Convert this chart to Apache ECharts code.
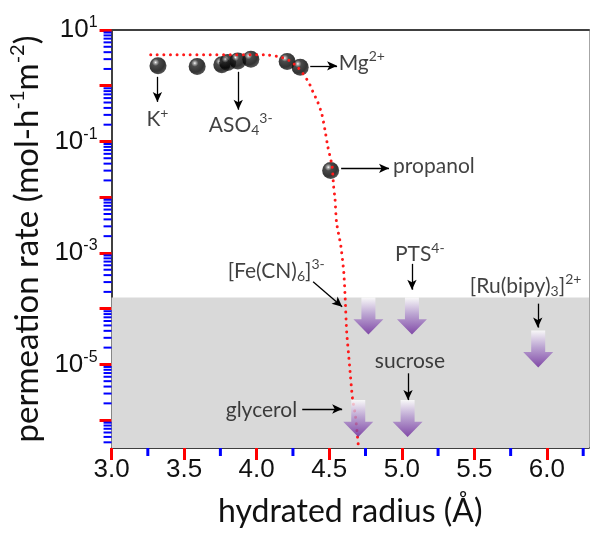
<!DOCTYPE html>
<html>
<head>
<meta charset="utf-8">
<script src="https://cdn.jsdelivr.net/npm/echarts@6/dist/echarts.min.js"></script>
<style>html,body{margin:0;padding:0;background:#fff}#main{width:590px;height:533px}</style>
</head>
<body>
<div id="main"></div>
<script>
// measured points (hydrated radius in A, permeation rate in mol h-1 m-2)
var sphereRadius = [3.32, 3.59, 3.76, 3.80, 3.87, 3.96, 4.21, 4.30, 4.51];
var sphereRate = [2.28, 2.21, 2.37, 2.61, 2.79, 3.00, 2.72, 2.15, 0.030];

// red dotted fit
var fitRadius = [3.27, 4.06, 4.16, 4.23, 4.28, 4.31, 4.36, 4.39, 4.42, 4.45, 4.47, 4.49, 4.52, 4.53, 4.54, 4.55, 4.58, 4.60, 4.61, 4.62, 4.64, 4.66, 4.68, 4.70];
var fitRate = [3.58, 3.58, 3.30, 2.79, 2.18, 1.78, 1.13, 0.75, 0.518, 0.303, 0.164, 0.0815, 0.0358, 0.0157, 0.0092, 0.00358, 0.00133, 4.58e-4, 1.51e-4, 3.88e-5, 9.6e-6, 2.47e-6, 1.23e-6, 3.58e-7];

// species below detection (purple arrows, top of arrow = limit)
var limitNames = ['[Fe(CN)6]3-', 'PTS4-', '[Ru(bipy)3]2+', 'glycerol', 'sucrose'];
var limitRadius = [4.77, 5.07, 5.94, 4.70, 5.04];
var limitRate = [1.58e-4, 1.58e-4, 4.07e-5, 2.29e-6, 2.29e-6];
var shadeTop = 1.58e-4;

// axes
var xLabels = [3.0, 3.5, 4.0, 4.5, 5.0, 5.5, 6.0];
var xMinorTicks = [3.25, 3.75, 4.25, 4.75, 5.25, 5.75, 6.25];
var yLabelExp = [1, -1, -3, -5];
var xMin = 3, xMax = 6.29, yMin = -6.5, yMax = 1;

var lg = function(v){ return Math.log10(v); };

var yMajor = [], yMinor = [];
for (var e = -7; e <= 1; e++) {
    if (e >= yMin && e <= yMax) yMajor.push(e);
    for (var k = 2; k <= 9; k++) {
        var v = e + Math.log10(k);
        if (v > yMin && v < yMax) yMinor.push(v);
    }
}

// annotations: text [radius, log10 rate], arrow [x1, y1, x2, y2]
var notes = [
    {txt: '{t|K}{sup|+}', pos: [3.316, -0.61], align: 'center', arrow: [3.316, 0.16, 3.316, -0.29]},
    {txt: '{t|ASO}{sub|4}{sup|3-}', pos: [3.89, -0.70], align: 'center', arrow: [3.873, 0.25, 3.873, -0.43]},
    {txt: '{t|Mg}{sup|2+}', pos: [4.565, 0.41], align: 'left', arrow: [4.369, 0.357, 4.554, 0.357]},
    {txt: '{t|propanol}', pos: [4.94, -1.45], align: 'left', arrow: [4.582, -1.482, 4.912, -1.482]},
    {txt: '{t|[Fe(CN)}{sub|6}{t|]}{sup|3-}', pos: [3.80, -3.32], align: 'left', arrow: [4.389, -3.518, 4.589, -3.964]},
    {txt: '{t|PTS}{sup|4-}', pos: [4.953, -3.02], align: 'left', arrow: [5.07, -3.196, 5.07, -3.66]},
    {txt: '{t|[Ru(bipy)}{sub|3}{t|]}{sup|2+}', pos: [5.469, -3.59], align: 'left', arrow: [5.937, -3.91, 5.937, -4.34]},
    {txt: '{t|sucrose}', pos: [5.056, -4.95], align: 'center', arrow: [5.043, -5.16, 5.043, -5.64]},
    {txt: '{t|glycerol}', pos: [4.279, -5.82], align: 'right', arrow: [4.314, -5.80, 4.589, -5.80]}
];

var sphereData = [], fitData = [], limitData = [];
for (var i = 0; i < sphereRadius.length; i++) sphereData.push([sphereRadius[i], lg(sphereRate[i])]);
for (var i = 0; i < fitRadius.length; i++) fitData.push([fitRadius[i], lg(fitRate[i])]);
for (var i = 0; i < limitRadius.length; i++) limitData.push({name: limitNames[i], value: [limitRadius[i], lg(limitRate[i])]});

var noteData = [], arrowData = [];
for (var i = 0; i < notes.length; i++) {
    var n = notes[i];
    noteData.push({value: n.pos, label: {formatter: n.txt, align: n.align}});
    arrowData.push([{coord: [n.arrow[0], n.arrow[1]]}, {coord: [n.arrow[2], n.arrow[3]]}]);
}

var noteFont = 'Lato';
var richNote = {
    t: {fontFamily: noteFont, fontSize: 21, color: '#111', lineHeight: 26},
    sup: {fontFamily: noteFont, fontSize: 14, color: '#111', lineHeight: 14, verticalAlign: 'top'},
    sub: {fontFamily: noteFont, fontSize: 14, color: '#111', lineHeight: 14, verticalAlign: 'bottom'}
};

var arrowPath = 'path://M8,0 L22,0 L22,21 L30,21 L15,36 L0,21 L8,21 Z';

var option = {
    animation: false,
    backgroundColor: '#fff',
    grid: {left: 111, top: 30, right: 1, bottom: 83},
    xAxis: [{
        type: 'value', position: 'bottom', min: xMin, max: xMax,
        axisLine: {show: true, onZero: false, lineStyle: {color: '#000', width: 1.5}},
        axisTick: {show: true, customValues: xLabels, length: 12, lineStyle: {color: 'red', width: 3}},
        axisLabel: {customValues: xLabels, margin: 9, fontFamily: 'Liberation Sans', fontSize: 26, color: '#111',
            formatter: function(v){ return v.toFixed(1); }},
        splitLine: {show: false},
        name: 'hydrated radius (\u00c5)', nameLocation: 'middle', nameGap: 48,
        nameTextStyle: {fontFamily: noteFont, fontSize: 32, color: '#111'}
    }, {
        type: 'value', position: 'top', min: xMin, max: xMax,
        axisLine: {show: true, onZero: false, lineStyle: {color: '#404040', width: 2}},
        axisTick: {show: false}, axisLabel: {show: false}, splitLine: {show: false}
    }],
    yAxis: [{
        type: 'value', position: 'left', min: yMin, max: yMax,
        axisLine: {show: true, onZero: false, lineStyle: {color: '#000', width: 1.5}},
        axisTick: {show: true, customValues: yMajor, length: 12, lineStyle: {color: 'red', width: 3}},
        axisLabel: {customValues: yLabelExp, margin: 14,
            formatter: function(v){ return '{b|10}{s|' + Math.round(v) + '}'; },
            rich: {
                b: {fontFamily: 'Liberation Sans', fontSize: 26, color: '#111', lineHeight: 30},
                s: {fontFamily: 'Liberation Sans', fontSize: 16, color: '#111', lineHeight: 16, verticalAlign: 'top'}
            }},
        splitLine: {show: false},
        name: '{t|permeation rate (mol-h}{s|-1}{t|m}{s|-2}{t|)}', nameLocation: 'middle', nameGap: 60,
        nameTextStyle: {rich: {
            t: {fontFamily: noteFont, fontSize: 33, color: '#111', lineHeight: 38},
            s: {fontFamily: noteFont, fontSize: 20, color: '#111', lineHeight: 20, verticalAlign: 'top'}
        }}
    }, {
        type: 'value', position: 'right', min: yMin, max: yMax,
        axisLine: {show: true, onZero: false, lineStyle: {color: '#a6a6a6', width: 1}},
        axisTick: {show: false}, axisLabel: {show: false}, splitLine: {show: false}
    }],
    series: [{
        name: 'measured', type: 'scatter', z: 2,
        symbol: 'circle', symbolSize: 17,
        itemStyle: {
            color: new echarts.graphic.RadialGradient(0.36, 0.3, 0.7, [
                {offset: 0, color: '#ffffff'},
                {offset: 0.1, color: '#9a9a9a'},
                {offset: 0.3, color: '#1c1c1c'},
                {offset: 0.75, color: '#000'},
                {offset: 1, color: '#262626'}
            ])
        },
        data: sphereData,
        markArea: {
            silent: true,
            itemStyle: {color: '#d9d9d9'},
            data: [[{xAxis: xMin, yAxis: yMin}, {xAxis: xMax, yAxis: lg(shadeTop)}]]
        }
    }, {
        name: 'fit', type: 'line', z: 3, smooth: 0.2,
        showSymbol: false, symbol: 'none',
        lineStyle: {color: '#ff1a1a', width: 3, type: [0.01, 6.6], cap: 'round'},
        data: fitData
    }, {
        name: 'limit', type: 'scatter', z: 4,
        symbol: arrowPath, symbolSize: [30, 37], symbolOffset: [0, '50%'],
        itemStyle: {
            color: new echarts.graphic.LinearGradient(0, 0, 0, 1, [
                {offset: 0, color: '#ffffff'},
                {offset: 0.45, color: '#b497d0'},
                {offset: 1, color: '#6a259a'}
            ])
        },
        data: limitData
    }, {
        name: 'notes', type: 'scatter', z: 5, silent: true,
        symbolSize: 1, itemStyle: {color: 'rgba(0,0,0,0)'},
        label: {show: true, position: 'inside', verticalAlign: 'middle', rich: richNote},
        data: noteData,
        markLine: {
            silent: true, symbol: ['none', 'arrow'], symbolSize: [7, 10],
            label: {show: false},
            lineStyle: {color: '#000', width: 1.3, type: 'solid'},
            emphasis: {disabled: true},
            data: arrowData
        }
    }]
};

var chart = echarts.init(document.getElementById('main'));
chart.setOption(option);

// minor ticks, placed through the axes' own scales
var tickEls = [];
var axisY = chart.convertToPixel({yAxisIndex: 0}, yMin);
var axisX = chart.convertToPixel({xAxisIndex: 0}, xMin);
function xTick(v, len, w){
    var p = chart.convertToPixel({xAxisIndex: 0}, v);
    tickEls.push({type: 'line', silent: true, z: 100, shape: {x1: p, y1: axisY, x2: p, y2: axisY + len}, style: {stroke: 'blue', lineWidth: w}});
}
function yTick(v, len, w){
    var p = chart.convertToPixel({yAxisIndex: 0}, v);
    tickEls.push({type: 'line', silent: true, z: 100, shape: {x1: axisX, y1: p, x2: axisX - len, y2: p}, style: {stroke: 'blue', lineWidth: w}});
}
xMinorTicks.forEach(function(v){ if (v < xMax) xTick(v, 8, 3); });
yMinor.forEach(function(v){ yTick(v, 8, 2); });
chart.setOption({graphic: {elements: tickEls}});
</script>
</body>
</html>
